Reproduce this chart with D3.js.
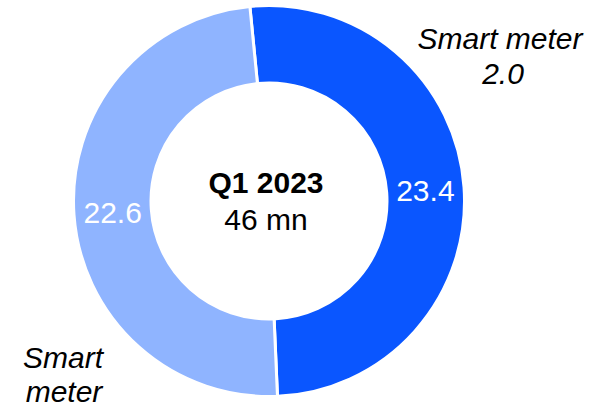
<!DOCTYPE html>
<meta charset="utf-8">
<script src="https://d3js.org/d3.v7.min.js"></script>
<style>
  body { margin: 0; background: #fff; }
  text { font-family: "Liberation Sans", Arial, sans-serif; }
</style>
<div id="chart"></div>
<script>
  // data
  const segments = ["Smart meter 2.0", "Smart meter"];
  const values = [23.4, 22.6];
  const colors = ["#0a56ff", "#8fb4ff"];
  const centerTitle = "Q1 2023";
  const centerSub = "46 mn";

  const W = 612, H = 412;
  const cx = 269, cy = 201;
  const outerR = 195.5, innerR = 118;

  const svg = d3.select("#chart").append("svg")
    .attr("width", W)
    .attr("height", H);

  const g = svg.append("g").attr("transform", `translate(${cx},${cy})`);

  const start = -0.098;
  const pie = d3.pie().sort(null).startAngle(start).endAngle(start + 2 * Math.PI);
  const arcs = pie(values);

  const arc = d3.arc().innerRadius(innerR).outerRadius(outerR);

  g.selectAll("path")
    .data(arcs)
    .enter()
    .append("path")
    .attr("d", arc)
    .attr("fill", (d, i) => colors[i])
    .attr("stroke", "#fff")
    .attr("stroke-width", 3);

  // value labels
  g.selectAll("text.val")
    .data(arcs)
    .enter()
    .append("text")
    .attr("class", "val")
    .attr("transform", d => `translate(${arc.centroid(d)})`)
    .attr("text-anchor", "middle")
    .attr("dy", "0.36em")
    .style("font-size", "30px")
    .attr("fill", "#fff")
    .text(d => d.data.toFixed(1));

  // center text
  g.append("text")
    .attr("x", -3).attr("y", -8)
    .attr("text-anchor", "middle")
    .style("font-size", "30px")
    .style("font-weight", "bold")
    .text(centerTitle);
  g.append("text")
    .attr("x", -3).attr("y", 29)
    .attr("text-anchor", "middle")
    .style("font-size", "30px")
    .text(centerSub);

  // outer labels
  const lab1 = svg.append("text")
    .attr("text-anchor", "middle")
    .style("font-size", "30px")
    .style("font-style", "italic");
  lab1.append("tspan").attr("x", 500).attr("y", 49).text("Smart meter");
  lab1.append("tspan").attr("x", 503).attr("y", 84).text("2.0");

  const lab2 = svg.append("text")
    .attr("text-anchor", "middle")
    .style("font-size", "30px")
    .style("font-style", "italic");
  lab2.append("tspan").attr("x", 63).attr("y", 368).text("Smart");
  lab2.append("tspan").attr("x", 64).attr("y", 402).text("meter");
</script>
